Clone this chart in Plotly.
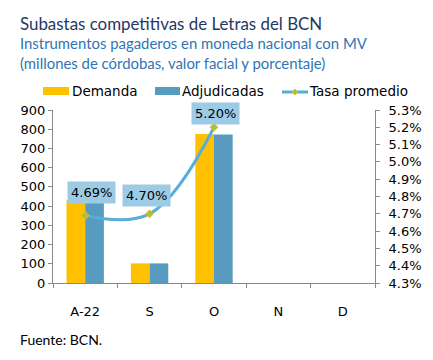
import plotly.graph_objects as go

categories = ["A-22", "S", "O", "N", "D"]
demanda = [430, 102, 775, None, None]
adjudicadas = [425, 102, 772, None, None]
tasa = [4.69, 4.70, 5.20, None, None]
tasa_labels = ["4.69%", "4.70%", "5.20%"]
left_ticks = [0, 100, 200, 300, 400, 500, 600, 700, 800, 900]
right_ticks = [4.3, 4.4, 4.5, 4.6, 4.7, 4.8, 4.9, 5.0, 5.1, 5.2, 5.3]
series_names = ["Demanda", "Adjudicadas", "Tasa promedio"]

C_DEM = "#FFC000"
C_ADJ = "#579BBF"
C_LINE = "#56AEDB"

# figure geometry (px); page body adds an 8px offset
W, H = 425, 352
ML, MR, MT, MB = 45, 58, 102, 77
PW, PH = W - ML - MR, H - MT - MB


def px(fx):
    return (fx - ML) / PW


def py(fy):
    return 1 - (fy - MT) / PH


tick_font = dict(family="DejaVu Sans", size=13, color="#000000")

fig = go.Figure()
fig.add_trace(go.Bar(x=categories, y=demanda, name=series_names[0],
                     marker=dict(color=C_DEM, line=dict(width=0))))
fig.add_trace(go.Bar(x=categories, y=adjudicadas, name=series_names[1],
                     marker=dict(color=C_ADJ, line=dict(width=0))))
fig.add_trace(go.Scatter(x=categories[:3], y=tasa[:3], name=series_names[2], yaxis="y2",
                         mode="lines+markers",
                         line=dict(color=C_LINE, width=3, shape="spline", smoothing=1.1),
                         marker=dict(symbol="diamond", size=6, color="#9CC83A",
                                     line=dict(color="#E8B830", width=1))))

shifts = [(6, 23), (-3, 18), (1, 14)]
for c, v, t, (dx, dy) in zip(categories, tasa, tasa_labels, shifts):
    fig.add_annotation(x=c, y=v, xref="x", yref="y2", text=t, showarrow=False,
                       xshift=dx, yshift=dy, bgcolor="#9DCAE5", borderpad=3,
                       font=dict(family="DejaVu Sans", size=13, color="#000000"))

title_font = "Lato"
fig.add_annotation(xref="paper", yref="paper", x=px(10), y=py(15), xanchor="left", yanchor="middle",
                   text="Subastas competitivas de Letras del BCN", showarrow=False,
                   font=dict(family=title_font, size=16.9, color="#1F3864"))
fig.add_annotation(xref="paper", yref="paper", x=px(10), y=py(35), xanchor="left", yanchor="middle",
                   text="Instrumentos pagaderos en moneda nacional con MV", showarrow=False,
                   font=dict(family=title_font, size=14.9, color="#2E74B5"))
fig.add_annotation(xref="paper", yref="paper", x=px(10), y=py(55), xanchor="left", yanchor="middle",
                   text="(millones de córdobas, valor facial y porcentaje)", showarrow=False,
                   font=dict(family=title_font, size=14.9, color="#2E74B5"))
fig.add_annotation(xref="paper", yref="paper", x=px(10), y=py(331), xanchor="left", yanchor="middle",
                   text="Fuente: BCN.", showarrow=False,
                   font=dict(family=title_font, size=14, color="#000000"))

# legend drawn manually (wide swatches like the original)
leg_y = 83
leg_font = dict(family="DejaVu Sans", size=13.5, color="#000000")
for x0, x1, col in [(35, 61, C_DEM), (147, 172, C_ADJ)]:
    fig.add_shape(type="rect", xref="paper", yref="paper", x0=px(x0), x1=px(x1),
                  y0=py(leg_y - 4), y1=py(leg_y + 4), fillcolor=col, line=dict(width=0))
fig.add_shape(type="line", xref="paper", yref="paper", x0=px(274), x1=px(300),
              y0=py(leg_y + 1), y1=py(leg_y + 1), line=dict(color=C_LINE, width=3))
fig.add_shape(type="path", xref="paper", yref="paper", xsizemode="pixel", ysizemode="pixel",
              xanchor=px(287), yanchor=py(leg_y + 1), path="M0,-3 L3,0 L0,3 L-3,0 Z",
              fillcolor="#9CC83A", line=dict(color="#E8B830", width=1))
for fx, name in zip([62, 172, 299], series_names):
    fig.add_annotation(xref="paper", yref="paper", x=px(fx), y=py(leg_y), xanchor="left",
                       yanchor="middle", text=name, showarrow=False, font=leg_font)

fig.update_layout(
    width=W, height=H,
    margin=dict(l=ML, r=MR, t=MT, b=MB),
    paper_bgcolor="white", plot_bgcolor="white",
    barmode="group", bargap=0.42, bargroupgap=0,
    showlegend=False,
    xaxis=dict(type="category", categoryorder="array", categoryarray=categories,
               range=[-0.5, 4.5], showgrid=False, showline=True, linecolor="#888888", linewidth=1,
               ticks="outside", tickson="boundaries", ticklen=4, tickcolor="#888888",
               tickfont=tick_font, ticklabelstandoff=16),
    yaxis=dict(range=[0, 900], tickvals=left_ticks, showgrid=False, showline=True,
               linecolor="#888888", linewidth=1, ticks="outside", ticklen=4, tickcolor="#888888",
               tickfont=tick_font, zeroline=False),
    yaxis2=dict(range=[4.3, 5.3], tickvals=right_ticks, ticktext=[f"{v:.1f}%" for v in right_ticks],
                overlaying="y", side="right", showgrid=False, showline=True,
                linecolor="#888888", linewidth=1, ticks="outside", ticklen=4, tickcolor="#888888",
                tickfont=tick_font, zeroline=False, ticklabelstandoff=6),
)

fig.write_html("out.html")
